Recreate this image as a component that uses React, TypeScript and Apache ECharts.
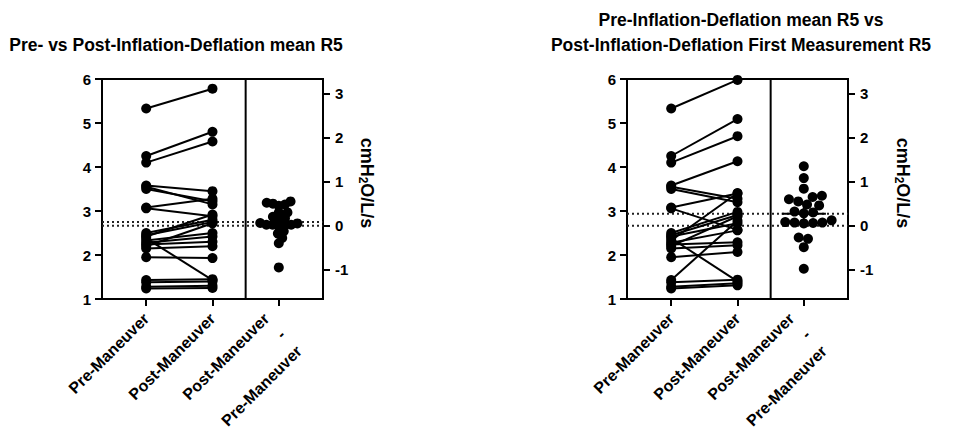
import React, { useEffect, useRef } from "react";
import * as echarts from "echarts";

// ---- data ----
const preR5 = [5.33, 4.25, 4.1, 3.58, 3.55, 3.5, 3.08, 3.06, 2.5, 2.45, 2.42, 2.38, 2.33, 2.28, 2.24, 2.2, 2.15, 1.95, 1.43, 1.38, 1.28, 1.24];
const postMeanR5 = [5.78, 4.8, 4.58, 3.45, 3.15, 3.22, 3.28, 2.88, 2.8, 2.75, 2.92, 1.43, 2.5, 2.42, 2.3, 2.72, 2.2, 1.93, 1.45, 1.4, 1.3, 1.25];
const postFirstR5 = [5.98, 5.09, 4.7, 4.13, 3.28, 3.2, 3.4, 2.57, 2.98, 2.91, 2.72, 1.4, 3.41, 2.56, 2.29, 2.88, 2.22, 2.07, 2.78, 1.44, 1.36, 1.31];
const xCategories = ["Pre-Maneuver", "Post-Maneuver", "Post-Maneuver\n-\nPre-Maneuver"];
const leftTicks = [1, 2, 3, 4, 5, 6];
const diffTicks = [-1, 0, 1, 2, 3];
const titles = [
  "Pre- vs Post-Inflation-Deflation mean R5",
  "Pre-Inflation-Deflation mean R5 vs\nPost-Inflation-Deflation First Measurement R5",
];
const diffAxisName = "cmH{s|2}O/L/s";

// ---- layout ----
const FONT = "'Liberation Sans', Arial, Helvetica, sans-serif";
const X_MIN = 0;
const X_MAX = 5;
const PRE_X = 1;
const POST_X = 2.5;
const DIV_X = 3.25;
const DIFF_X = 4;
const DIFF_LABEL_SHIFT = -0.28;
const tickPositions = [PRE_X, POST_X, DIFF_X];

const mean = (a: number[]) => a.reduce((s, v) => s + v, 0) / a.length;
const sdev = (a: number[]) => {
  const m = mean(a);
  return Math.sqrt(a.reduce((s, v) => s + (v - m) * (v - m), 0) / (a.length - 1));
};

function swarm(vals: number[], d: number): number[] {
  const order = vals.map((_, i) => i).sort((a, b) => vals[a] - vals[b]);
  const placed: { x: number; y: number }[] = [];
  const out = new Array(vals.length).fill(0);
  const step = d * 0.05;
  for (const i of order) {
    const y = vals[i];
    let chosen = 0;
    for (let k = 0; k < 600; k++) {
      const off = (k % 2 === 1 ? 1 : -1) * Math.ceil(k / 2) * step;
      const ok = placed.every((p) => (p.x - off) ** 2 + (p.y - y) ** 2 >= d * d - 1e-9);
      if (ok) {
        chosen = off;
        break;
      }
    }
    placed.push({ x: chosen, y });
    out[i] = chosen;
  }
  return out;
}

function buildOption() {
  const meanPre = mean(preR5);
  const black = "#000";
  const axisLine = { show: true, onZero: false, lineStyle: { color: black, width: 2 } };
  const tickStyle = { color: black, width: 2 };
  const labelBase = { color: black, fontWeight: "bold" as const, fontSize: 15, fontFamily: FONT };
  const xLabelBase = {
    ...labelBase,
    fontSize: 16,
    rotate: 45,
    margin: 17,
    lineHeight: 23,
    showMinLabel: true,
    showMaxLabel: true,
    hideOverlap: false,
  };

  const panels = [
    { post: postMeanR5, left: 102, nameGap: 34, swarmD: 0.14, errBar: false },
    { post: postFirstR5, left: 627, nameGap: 45, swarmD: 0.21, errBar: true },
  ];

  const grid: any[] = [];
  const xAxis: any[] = [];
  const extraX: any[] = [];
  const yAxis: any[] = [];
  const series: any[] = [];

  panels.forEach((p, k) => {
    grid.push({
      left: p.left,
      top: 79,
      width: 221,
      height: 220,
      show: true,
      borderColor: black,
      borderWidth: 2,
      backgroundColor: "transparent",
      containLabel: false,
      outerBoundsMode: "none",
    });
    xAxis.push({
      gridIndex: k,
      type: "value",
      position: "bottom",
      min: X_MIN,
      max: X_MAX,
      axisLine,
      splitLine: { show: false },
      axisTick: { show: true, length: 7, lineStyle: tickStyle, customValues: tickPositions },
      axisLabel: {
        ...xLabelBase,
        customValues: [PRE_X, POST_X],
        formatter: (v: number) => (Math.abs(v - PRE_X) < 1e-6 ? xCategories[0] : xCategories[1]),
      },
    });
    // separate axis carrying only the multi-line difference label
    extraX.push({
      gridIndex: k,
      type: "value",
      position: "bottom",
      offset: 0,
      min: X_MIN,
      max: X_MAX,
      axisLine: { show: false },
      axisTick: { show: false },
      splitLine: { show: false },
      axisLabel: {
        ...xLabelBase,
        customValues: [DIFF_X + DIFF_LABEL_SHIFT],
        formatter: () => "\n\n" + xCategories[2],
      },
    });
    yAxis.push({
      gridIndex: k,
      type: "value",
      position: "left",
      min: leftTicks[0],
      max: leftTicks[leftTicks.length - 1],
      interval: 1,
      axisLine,
      splitLine: { show: false },
      axisTick: { show: true, length: 7, lineStyle: tickStyle },
      axisLabel: { ...labelBase, margin: 11 },
    });
    yAxis.push({
      gridIndex: k,
      type: "value",
      position: "right",
      min: leftTicks[0] - meanPre,
      max: leftTicks[leftTicks.length - 1] - meanPre,
      axisLine,
      splitLine: { show: false },
      axisTick: { show: true, length: 7, lineStyle: tickStyle, customValues: diffTicks },
      axisLabel: { ...labelBase, margin: 12, customValues: diffTicks, formatter: (v: number) => String(Math.round(v)) },
      name: diffAxisName,
      nameLocation: "middle",
      nameRotate: -90,
      nameGap: p.nameGap,
      nameTextStyle: {
        ...labelBase,
        fontSize: 18,
        padding: [0, 12, 0, 0],
        rich: { s: { fontSize: 12, fontWeight: "bold", fontFamily: FONT, color: black, verticalAlign: "bottom", padding: [8, 0, 0, 0] } },
      },
    });

    const yL = 2 * k;
    const yR = 2 * k + 1;
    const meanPost = mean(p.post);

    // dotted mean lines
    [meanPre, meanPost].forEach((m) => {
      series.push({
        type: "line",
        xAxisIndex: k,
        yAxisIndex: yL,
        data: [[X_MIN, m], [X_MAX, m]],
        symbol: "none",
        silent: true,
        z: 1,
        lineStyle: { color: "#222", width: 2, type: [2, 3] },
      });
    });
    // divider
    series.push({
      type: "line",
      xAxisIndex: k,
      yAxisIndex: yL,
      data: [[DIV_X, leftTicks[0]], [DIV_X, leftTicks[leftTicks.length - 1]]],
      symbol: "none",
      silent: true,
      z: 1,
      lineStyle: { color: black, width: 2 },
    });
    // paired lines
    preR5.forEach((v, i) => {
      series.push({
        type: "line",
        xAxisIndex: k,
        yAxisIndex: yL,
        data: [[PRE_X, v], [POST_X, p.post[i]]],
        symbol: "circle",
        symbolSize: 10,
        itemStyle: { color: black, opacity: 1 },
        lineStyle: { color: black, width: 2 },
        z: 3,
      });
    });
    // differences
    const diffs = p.post.map((v, i) => v - preR5[i]);
    const offs = swarm(diffs, p.swarmD);
    series.push({
      type: "scatter",
      xAxisIndex: k,
      yAxisIndex: yR,
      data: diffs.map((d, i) => [DIFF_X + offs[i], d]),
      symbol: "circle",
      symbolSize: 10,
      itemStyle: { color: black, opacity: 1 },
      z: 3,
    });
    if (p.errBar) {
      const md = mean(diffs);
      const half = (2.08 * sdev(diffs)) / Math.sqrt(diffs.length);
      const segs = [
        [[DIFF_X - 0.5, md], [DIFF_X + 0.5, md]],
        [[DIFF_X, md - half], [DIFF_X, md + half]],
        [[DIFF_X - 0.11, md + half], [DIFF_X + 0.11, md + half]],
        [[DIFF_X - 0.11, md - half], [DIFF_X + 0.11, md - half]],
      ];
      segs.forEach((s) =>
        series.push({
          type: "line",
          xAxisIndex: k,
          yAxisIndex: yR,
          data: s,
          symbol: "none",
          silent: true,
          z: 4,
          lineStyle: { color: black, width: 2 },
        })
      );
    }
  });

  return {
    animation: false,
    backgroundColor: "#fff",
    grid,
    xAxis: [...xAxis, ...extraX],
    yAxis,
    series,
    graphic: [
      {
        type: "text",
        x: 176,
        y: 45,
        style: { text: titles[0], fontSize: 17.5, fontWeight: "bold", fontFamily: FONT, fill: black, textAlign: "center", textVerticalAlign: "middle" },
      },
      {
        type: "text",
        x: 741,
        y: 32,
        style: {
          text: titles[1],
          fontSize: 17.5,
          fontWeight: "bold",
          fontFamily: FONT,
          fill: black,
          textAlign: "center",
          textVerticalAlign: "middle",
          lineHeight: 25,
        },
      },
    ],
  };
}

export default function App() {
  const ref = useRef<HTMLDivElement>(null);
  useEffect(() => {
    document.body.style.margin = "0";
    const chart = echarts.init(ref.current!, null, { renderer: "svg" });
    chart.setOption(buildOption() as any);
    return () => chart.dispose();
  }, []);
  return <div ref={ref} style={{ width: 977, height: 441 }} />;
}
